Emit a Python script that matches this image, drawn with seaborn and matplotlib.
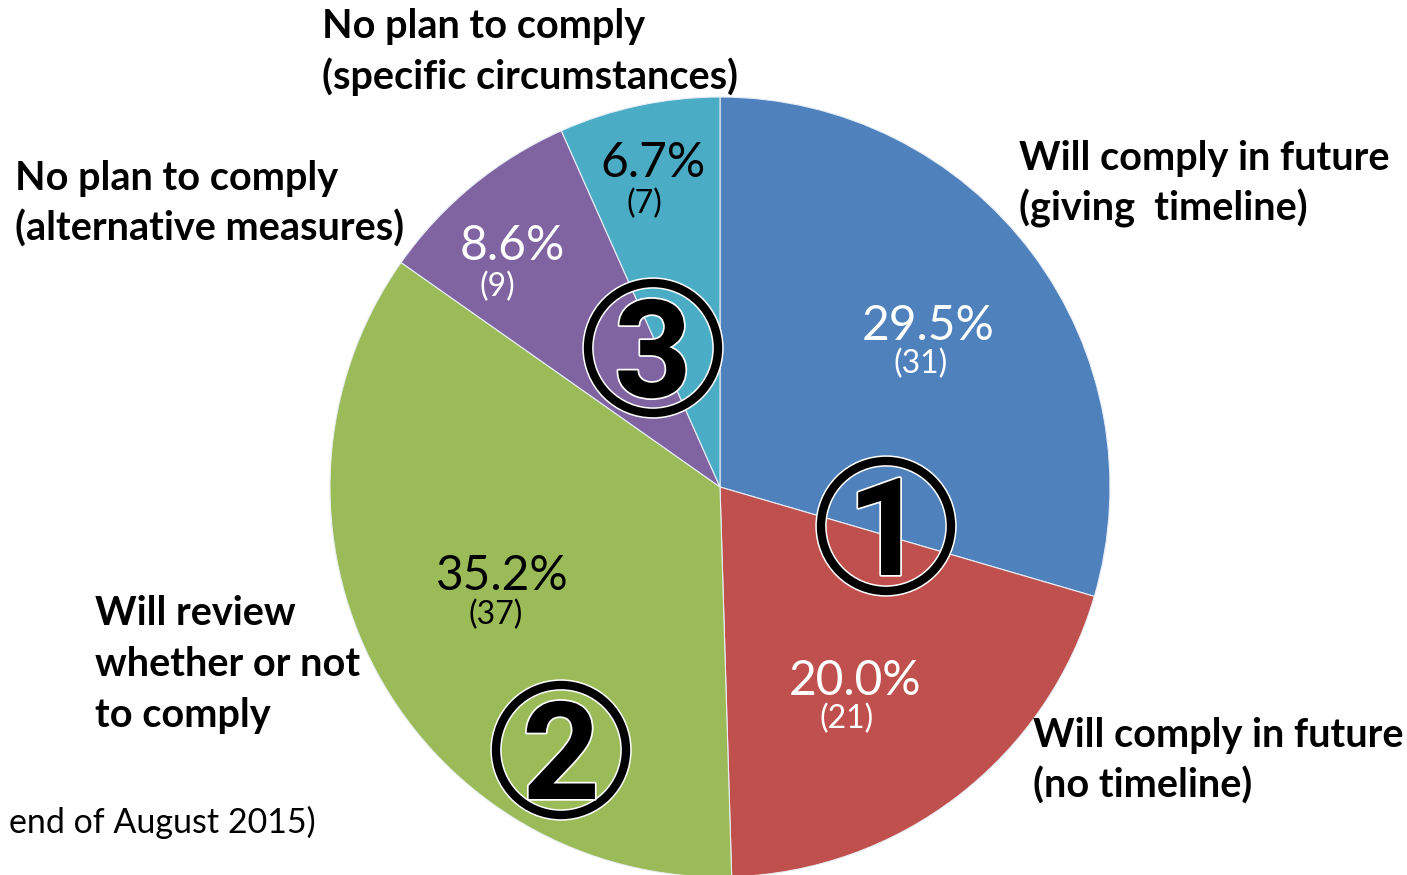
import matplotlib
matplotlib.use("Agg")
import matplotlib.pyplot as plt
import matplotlib.patheffects as pe
from matplotlib.patches import Circle
from matplotlib.font_manager import FontProperties
import seaborn as sns

# Survey responses (number of companies per response)
categories = [
    "Will comply in future\n(giving  timeline)",
    "Will comply in future\n(no timeline)",
    "Will review\nwhether or not\nto comply",
    "No plan to comply\n(alternative measures)",
    "No plan to comply\n(specific circumstances)",
]
counts = [31, 21, 37, 9, 7]
colors = ["#4F81BD", "#C0504D", "#9BBB59", "#8064A2", "#4BACC6"]
value_text_colors = ["white", "white", "black", "white", "black"]
footnote = "end of August 2015)"

sns.set_theme(style="white")
plt.rcParams["font.family"] = ["Lato", "DejaVu Sans"]

W, H = 1407, 875
fig = plt.figure(figsize=(W / 100, H / 100), dpi=100)
ax = fig.add_axes([0, 0, 1, 1])


def Y(py):
    return H - py


# pie in pixel space
cx, cy, R = 720, 487, 390
ax.pie(counts, colors=colors, startangle=90, counterclock=False,
       center=(cx, Y(cy)), radius=R, frame=True,
       wedgeprops=dict(edgecolor="#e8eef5", linewidth=0.8))
ax.set_xlim(0, W)
ax.set_ylim(0, H)
ax.set_aspect("equal")
ax.axis("off")

total = sum(counts)

# value labels: percentage with count underneath
pct_pos = [(928, 340), (855, 695), (502, 590), (512, 260), (653, 177)]
cnt_pos = [(921, 373), (847, 728), (496, 624), (497, 296), (644, 213)]
for c, col, (px, py), (qx, qy) in zip(counts, value_text_colors, pct_pos, cnt_pos):
    ax.text(px, Y(py), f"{c / total * 100:.1f}%", ha="center", va="baseline",
            fontsize=34.5, color=col)
    ax.text(qx, Y(qy), f"({c})", ha="center", va="baseline",
            fontsize=23, color=col)

# category labels, one line at a time
label_pos = [(1019, 170), (1033, 747), (95, 625), (15, 190), (322, 38)]
for lab, (lx, ly) in zip(categories, label_pos):
    for i, line in enumerate(lab.split("\n")):
        ax.text(lx, Y(ly + i * 51), line, ha="left", va="baseline",
                fontsize=28.5, fontweight="bold", color="black")

ax.text(316, Y(833), footnote, ha="right", va="baseline", fontsize=24.5,
        color="black")

# circled group markers
digit_font = FontProperties(family="Roboto", weight="bold", size=98)
markers = [("1", 886, 526), ("2", 561, 750), ("3", 653, 348)]
for num, mx, my in markers:
    ax.add_patch(Circle((mx, Y(my)), 65, fill=False, edgecolor="white",
                        linewidth=8.2, zorder=5))
    ax.add_patch(Circle((mx, Y(my)), 65, fill=False, edgecolor="black",
                        linewidth=6.0, zorder=6))
    ax.text(mx, Y(my + 49), num, ha="center", va="baseline",
            fontproperties=digit_font, color="black", zorder=7,
            path_effects=[pe.withStroke(linewidth=2.5, foreground="white")])

fig.savefig("out.png", dpi=100)
